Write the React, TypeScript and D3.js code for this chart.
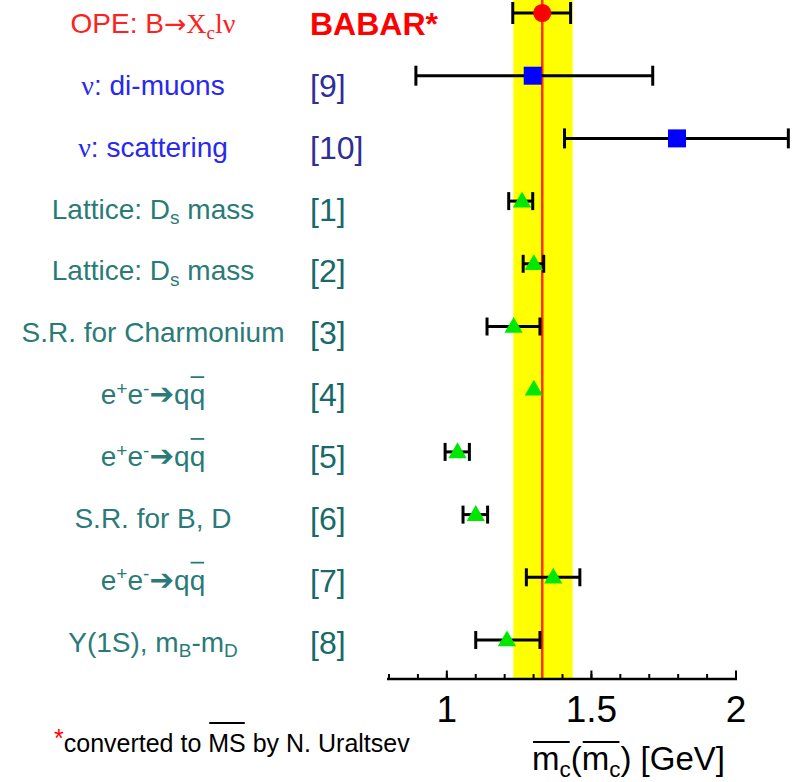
import React, { useEffect, useRef } from 'react';
import * as d3 from 'd3';

type Seg = { t: string; s?: 'sub' | 'sup'; serif?: boolean; arrow?: boolean; thin?: boolean; over?: boolean; c?: string; big?: boolean };

const SANS = '"Liberation Sans", Arial, Helvetica, sans-serif';
const SERIF = '"Liberation Serif", "Times New Roman", serif';

const eeqq: Seg[] = [
  { t: 'e' }, { t: '+', s: 'sup' }, { t: 'e' }, { t: '-', s: 'sup' },
  { t: '➔', arrow: true }, { t: 'q' }, { t: 'q', over: true },
];

const labels: Seg[][] = [
  [{ t: 'OPE: B' }, { t: '→', thin: true }, { t: 'X', serif: true }, { t: 'c', s: 'sub', serif: true }, { t: 'lν', serif: true }],
  [{ t: 'ν', serif: true }, { t: ': di-muons' }],
  [{ t: 'ν', serif: true }, { t: ': scattering' }],
  [{ t: 'Lattice: D' }, { t: 's', s: 'sub' }, { t: ' mass' }],
  [{ t: 'Lattice: D' }, { t: 's', s: 'sub' }, { t: ' mass' }],
  [{ t: 'S.R. for Charmonium' }],
  eeqq,
  eeqq,
  [{ t: 'S.R. for B, D' }],
  eeqq,
  [{ t: 'Υ(1S), m' }, { t: 'B', s: 'sub' }, { t: '-m' }, { t: 'D', s: 'sub' }],
];
const refs = ['BABAR*', '[9]', '[10]', '[1]', '[2]', '[3]', '[4]', '[5]', '[6]', '[7]', '[8]'];
const groups = ['ope', 'nu', 'nu', 'qcd', 'qcd', 'qcd', 'qcd', 'qcd', 'qcd', 'qcd', 'qcd'];
const values = [1.33, 1.297, 1.796, 1.26, 1.301, 1.231, 1.301, 1.037, 1.1, 1.368, 1.208];
const errLo: (number | null)[] = [1.228, 0.893, 1.407, 1.214, 1.264, 1.139, null, 0.994, 1.056, 1.275, 1.1];
const errHi: (number | null)[] = [1.428, 1.712, 2.181, 1.297, 1.335, 1.322, null, 1.078, 1.141, 1.46, 1.322];

const bandRange = [1.23, 1.435];
const average = 1.33;
const xDomain = [0.8, 2.0];
const minorTicks = [0.8, 0.9, 1.0, 1.1, 1.2, 1.3, 1.4, 1.5, 1.6, 1.7, 1.8, 1.9, 2.0];
const majorTicks = [1, 1.5, 2];
const tickLabels = ['1', '1.5', '2'];

const titleSegs: Seg[] = [
  { t: 'm', over: true }, { t: 'c', s: 'sub', over: true }, { t: '(' },
  { t: 'm', over: true }, { t: 'c', s: 'sub', over: true }, { t: ') [GeV]' },
];
const footSegs: Seg[] = [
  { t: '*', s: 'sup', c: '#ff0000', big: true }, { t: 'converted to ' }, { t: 'MS', over: true }, { t: ' by N. Uraltsev' },
];

const colors: Record<string, { label: string; ref: string; marker: string }> = {
  ope: { label: '#ff2020', ref: '#ff0000', marker: '#ff0000' },
  nu: { label: '#2828f0', ref: '#2e2e98', marker: '#0000ff' },
  qcd: { label: '#2a7b78', ref: '#186a68', marker: '#00e800' },
};
const markerType = ['circle', 'square', 'square', 'triangle', 'triangle', 'triangle', 'triangle', 'triangle', 'triangle', 'triangle', 'triangle'];

function drawRich(
  g: d3.Selection<SVGGElement, unknown, null, undefined>,
  segs: Seg[], x: number, y: number, size: number, anchor: string, color: string,
  overOffset: number, weight = 'normal',
) {
  const text = g.append('text')
    .attr('x', x).attr('y', y)
    .attr('font-size', size).attr('font-family', SANS)
    .attr('font-weight', weight)
    .attr('text-anchor', anchor).attr('fill', color);
  let shift = 0;
  let idx = 0;
  const overs: [number, number][] = [];
  let cur: [number, number] | null = null;
  segs.forEach((seg) => {
    const ts = text.append('tspan').text(seg.t);
    const target = seg.s === 'sub' ? size * 0.2 : seg.s === 'sup' ? -size * (seg.big ? 0.2 : 0.33) : 0;
    ts.attr('dy', target - shift);
    shift = target;
    if (seg.s) ts.attr('font-size', size * (seg.big ? 1 : 0.68));
    if (seg.serif) ts.attr('font-family', SERIF);
    if (seg.arrow) ts.attr('font-family', '"DejaVu Sans", sans-serif').attr('font-size', size * 1.05);
    if (seg.thin) ts.attr('font-family', '"DejaVu Sans", sans-serif').attr('font-size', size * 0.95);
    if (seg.c) ts.attr('fill', seg.c);
    if (seg.over) {
      if (cur) cur[1] = idx + seg.t.length;
      else cur = [idx, idx + seg.t.length];
    } else if (cur) {
      overs.push(cur);
      cur = null;
    }
    idx += seg.t.length;
  });
  if (cur) overs.push(cur);
  const node = text.node() as SVGTextElement;
  overs.forEach(([a, b]) => {
    const x0 = node.getStartPositionOfChar(a).x;
    const x1 = node.getEndPositionOfChar(b - 1).x;
    g.append('line')
      .attr('x1', x0 + 1).attr('x2', x1 - 1)
      .attr('y1', y - overOffset).attr('y2', y - overOffset)
      .attr('stroke', color).attr('stroke-width', 1.8);
  });
}

export default function App() {
  const ref = useRef<SVGSVGElement>(null);
  useEffect(() => {
    const svg = d3.select(ref.current);
    svg.selectAll('*').remove();
    const g = svg.append('g');

    const x = d3.scaleLinear().domain(xDomain).range([389, 736]);
    const idx = d3.range(values.length);
    const y = d3.scaleLinear().domain([0, values.length - 1]).range([13, 640]);
    const ly = d3.scaleLinear().domain([0, values.length - 1]).range([27, 645.5]);
    const axisY = 679;

    // band
    g.append('rect')
      .attr('x', x(bandRange[0])).attr('y', 0)
      .attr('width', x(bandRange[1]) - x(bandRange[0]))
      .attr('height', axisY)
      .attr('fill', '#ffff00');
    g.append('line')
      .attr('x1', x(average)).attr('x2', x(average))
      .attr('y1', 0).attr('y2', axisY)
      .attr('stroke', '#ff3010').attr('stroke-width', 2.5);

    // axis
    g.append('line')
      .attr('x1', x(xDomain[0]) - 2).attr('x2', x(xDomain[1]) + 1)
      .attr('y1', axisY).attr('y2', axisY)
      .attr('stroke', '#000').attr('stroke-width', 2.5);
    g.selectAll('line.minor').data(minorTicks).enter().append('line')
      .attr('x1', (d) => x(d)).attr('x2', (d) => x(d))
      .attr('y1', axisY).attr('y2', axisY - 5)
      .attr('stroke', '#000').attr('stroke-width', 2);
    g.selectAll('line.major').data(majorTicks).enter().append('line')
      .attr('x1', (d) => x(d)).attr('x2', (d) => x(d))
      .attr('y1', axisY).attr('y2', axisY - 8.5)
      .attr('stroke', '#000').attr('stroke-width', 2);
    g.selectAll('text.tick').data(majorTicks).enter().append('text')
      .attr('x', (d) => x(d)).attr('y', 722)
      .attr('text-anchor', 'middle')
      .attr('font-family', SANS).attr('font-size', 37)
      .attr('fill', '#000')
      .text((d, i) => tickLabels[i]);

    // error bars
    idx.forEach((i) => {
      const lo = errLo[i];
      const hi = errHi[i];
      if (lo == null || hi == null) return;
      const cy = y(i);
      const capH = markerType[i] === 'triangle' ? 18 : markerType[i] === 'circle' ? 22 : 20;
      g.append('line').attr('x1', x(lo)).attr('x2', x(hi)).attr('y1', cy).attr('y2', cy)
        .attr('stroke', '#000').attr('stroke-width', 3);
      [lo, hi].forEach((v) => {
        g.append('line').attr('x1', x(v)).attr('x2', x(v))
          .attr('y1', cy - capH / 2).attr('y2', cy + capH / 2)
          .attr('stroke', '#000').attr('stroke-width', 3);
      });
    });

    // markers
    idx.forEach((i) => {
      const t = markerType[i];
      const sym = t === 'circle' ? d3.symbolCircle : t === 'square' ? d3.symbolSquare : d3.symbolTriangle;
      const size = t === 'circle' ? 260 : t === 'square' ? 324 : 145;
      g.append('path')
        .attr('d', d3.symbol().type(sym).size(size)())
        .attr('transform', `translate(${x(values[i])},${y(i) + (t === 'triangle' ? 1 : 0)})`)
        .attr('fill', colors[groups[i]].marker);
    });

    // labels
    idx.forEach((i) => {
      const c = colors[groups[i]];
      drawRich(g, labels[i], 153, ly(i) + 6, 28, 'middle', c.label, 27);
      const isB = i === 0;
      g.append('text')
        .attr('x', 310).attr('y', ly(i) + 8)
        .attr('font-family', SANS)
        .attr('font-size', 32)
        .attr('font-weight', isB ? 'bold' : 'normal')
        .attr('fill', c.ref)
        .text(refs[i]);
    });

    // title and footnote
    drawRich(g, titleSegs, 532, 770, 33, 'start', '#000', 28);
    drawRich(g, footSegs, 54, 752, 25, 'start', '#000', 29);
  }, []);

  return (
    <svg
      ref={ref}
      width={798}
      height={782}
      style={{ position: 'absolute', left: 0, top: 0, background: '#fff' }}
    />
  );
}
